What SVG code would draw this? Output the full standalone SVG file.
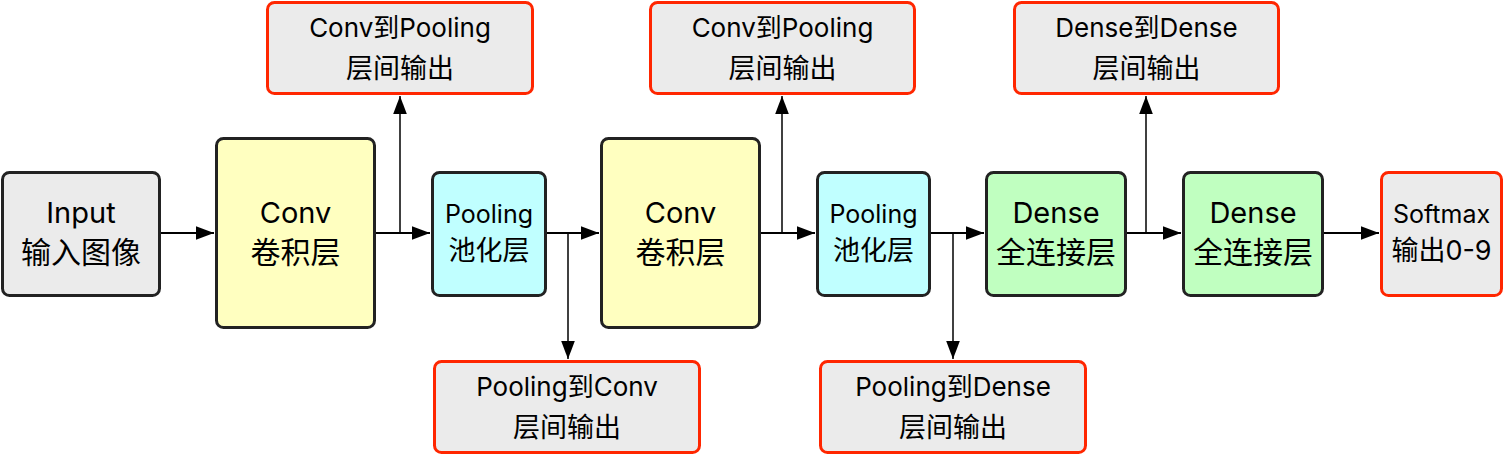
<svg xmlns="http://www.w3.org/2000/svg" width="1504" height="456" viewBox="0 0 1504 456">
<defs>
<marker id="ah2" viewBox="0 0 10 10" refX="10" refY="5" markerWidth="18" markerHeight="18" markerUnits="userSpaceOnUse" orient="auto">
<path d="M0,1.2 L10,5 L0,8.8 z" fill="#000"/>
</marker>
<style>
.n{stroke:#222;stroke-width:3}
.o{fill:#ebebeb;stroke:#ff2600;stroke-width:3}
.g{fill:#ebebeb}.y{fill:#ffffc0}.c{fill:#c0ffff}.d{fill:#c0ffc0}
text{font-family:"Inter","Noto Sans CJK SC",sans-serif;fill:#000;text-anchor:middle}
.l{font-size:29px}.lc{font-size:30px}
.m{font-size:25px}.mc{font-size:27px}
.t{font-size:26px}.tc{font-size:27px}
.e{fill:none;stroke:#000;stroke-width:2}
.b{fill:none;stroke:#000;stroke-width:1.5}
</style>
</defs>
<g id="connectors">
<path class="e" d="M160,233 H214" marker-end="url(#ah2)"/>
<path class="e" d="M375,233 H430" marker-end="url(#ah2)"/>
<path class="b" d="M400,233 V96" marker-end="url(#ah2)"/>
<path class="e" d="M546,233 H599" marker-end="url(#ah2)"/>
<path class="b" d="M568,233 V359" marker-end="url(#ah2)"/>
<path class="e" d="M760,233 H815" marker-end="url(#ah2)"/>
<path class="b" d="M782,233 V96" marker-end="url(#ah2)"/>
<path class="e" d="M930,233 H984" marker-end="url(#ah2)"/>
<path class="b" d="M953,233 V359" marker-end="url(#ah2)"/>
<path class="e" d="M1126,233 H1181" marker-end="url(#ah2)"/>
<path class="b" d="M1146,233 V96" marker-end="url(#ah2)"/>
<path class="e" d="M1323,233 H1379" marker-end="url(#ah2)"/>
</g>
<g id="input"><rect class="n g" x="2.5" y="172.5" width="157" height="123" rx="7"/><text class="l" x="81" y="223">Input</text><text class="lc" x="81" y="263">输入图像</text></g>
<g id="conv1"><rect class="n y" x="216.5" y="138.5" width="158" height="189" rx="7"/><text class="l" x="295.5" y="223">Conv</text><text class="lc" x="295.5" y="263">卷积层</text></g>
<g id="pool1"><rect class="n c" x="432.5" y="172.5" width="113" height="123" rx="7"/><text class="m" x="489" y="223">Pooling</text><text class="mc" x="489" y="260">池化层</text></g>
<g id="conv2"><rect class="n y" x="601.5" y="138.5" width="158" height="189" rx="7"/><text class="l" x="680.5" y="223">Conv</text><text class="lc" x="680.5" y="263">卷积层</text></g>
<g id="pool2"><rect class="n c" x="817.5" y="172.5" width="112" height="123" rx="7"/><text class="m" x="873.5" y="223">Pooling</text><text class="mc" x="873.5" y="260">池化层</text></g>
<g id="dense1"><rect class="n d" x="986.5" y="172.5" width="139" height="123" rx="7"/><text class="l" x="1056" y="223">Dense</text><text class="lc" x="1056" y="263">全连接层</text></g>
<g id="dense2"><rect class="n d" x="1183.5" y="172.5" width="139" height="123" rx="7"/><text class="l" x="1253" y="223">Dense</text><text class="lc" x="1253" y="263">全连接层</text></g>
<g id="softmax"><rect class="o" x="1381.5" y="172.5" width="120" height="123" rx="7"/><text class="m" x="1441.5" y="223">Softmax</text><text class="tc" x="1441.5" y="260">输出0-9</text></g>
<g id="out1"><rect class="o" x="267.5" y="2.5" width="265" height="91" rx="7"/><text class="t" x="400" y="37">Conv到Pooling</text><text class="tc" x="400" y="78">层间输出</text></g>
<g id="out2"><rect class="o" x="650.5" y="2.5" width="264" height="91" rx="7"/><text class="t" x="782.5" y="37">Conv到Pooling</text><text class="tc" x="782.5" y="78">层间输出</text></g>
<g id="out3"><rect class="o" x="1014.5" y="2.5" width="264" height="91" rx="7"/><text class="t" x="1146.5" y="37">Dense到Dense</text><text class="tc" x="1146.5" y="78">层间输出</text></g>
<g id="out4"><rect class="o" x="434.5" y="361.5" width="265" height="91" rx="7"/><text class="t" x="567" y="396">Pooling到Conv</text><text class="tc" x="567" y="437">层间输出</text></g>
<g id="out5"><rect class="o" x="820.5" y="361.5" width="265" height="91" rx="7"/><text class="t" x="953" y="396">Pooling到Dense</text><text class="tc" x="953" y="437">层间输出</text></g>
</svg>
